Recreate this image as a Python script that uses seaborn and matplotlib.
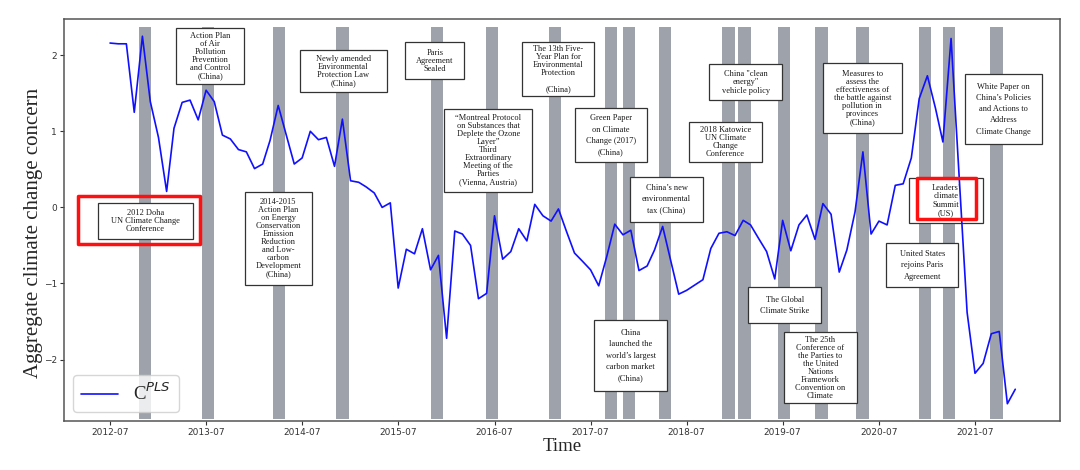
import numpy as np
import pandas as pd
import matplotlib
matplotlib.use("Agg")
import matplotlib.pyplot as plt
import matplotlib.dates as mdates
from matplotlib.patches import Rectangle
import seaborn as sns

# ---------------- data ----------------
first_month = "2012-07-01"
c_pls = [
    2.16, 2.15, 2.15, 1.25, 2.25, 1.39, 0.92, 0.21, 1.04, 1.38,
    1.41, 1.15, 1.54, 1.39, 0.95, 0.90, 0.76, 0.73, 0.51, 0.57,
    0.88, 1.34, 0.96, 0.57, 0.65, 1.00, 0.89, 0.92, 0.54, 1.16,
    0.35, 0.33, 0.27, 0.19, 0.00, 0.06, -1.06, -0.55, -0.61, -0.28,
    -0.82, -0.63, -1.72, -0.31, -0.35, -0.50, -1.20, -1.13, -0.11, -0.68,
    -0.58, -0.28, -0.44, 0.04, -0.11, -0.18, -0.02, -0.32, -0.60, -0.71,
    -0.82, -1.03, -0.64, -0.22, -0.36, -0.30, -0.83, -0.77, -0.56, -0.25,
    -0.69, -1.14, -1.09, -1.02, -0.95, -0.54, -0.34, -0.32, -0.37, -0.17,
    -0.23, -0.41, -0.58, -0.94, -0.17, -0.57, -0.23, -0.10, -0.42, 0.05,
    -0.09, -0.85, -0.56, -0.06, 0.73, -0.35, -0.18, -0.23, 0.29, 0.31,
    0.65, 1.43, 1.73, 1.30, 0.86, 2.22, 0.45, -1.38, -2.18, -2.05,
    -1.66, -1.63, -2.58, -2.39,
]
event_dates = [
    "2012-11-12", "2013-07-09", "2014-04-05", "2014-12-01", "2015-11-26",
    "2016-06-22", "2017-02-16", "2017-09-17", "2017-11-25", "2018-04-10",
    "2018-12-07", "2019-02-06", "2019-07-05", "2019-11-25", "2020-04-30",
    "2020-12-24", "2021-03-25", "2021-09-20",
]
event_bar_days = 47

yticks = [-2, -1, 0, 1, 2]
legend_label = "C$^{PLS}$"
x_label = "Time"
y_label = "Aggregate climate change concern"

notes = [
    "2012 Doha\nUN Climate Change\nConference",
    "Action Plan\nof Air\nPollution\nPrevention\nand Control\n(China)",
    "Newly amended\nEnvironmental\nProtection Law\n(China)",
    "2014-2015\nAction Plan\non Energy\nConservation\nEmission\nReduction\nand Low-\ncarbon\nDevelopment\n(China)",
    "Paris\nAgreement\nSealed",
    "\u201cMontreal Protocol\non Substances that\nDeplete the Ozone\nLayer\u201d\nThird\nExtraordinary\nMeeting of the\nParties\n(Vienna, Austria)",
    "The 13th Five-\nYear Plan for\nEnvironmental\nProtection\n\n(China)",
    "Green Paper\non Climate\nChange (2017)\n(China)",
    "China\u2019s new\nenvironmental\ntax (China)",
    "2018 Katowice\nUN Climate\nChange\nConference",
    "China \"clean\nenergy\"\nvehicle policy",
    "Measures to\nassess the\neffectiveness of\nthe battle against\npollution in\nprovinces\n(China)",
    "White Paper on\nChina\u2019s Policies\nand Actions to\nAddress\nClimate Change",
    "Leaders\u2019\nclimate\nSummit\n(US)",
    "United States\nrejoins Paris\nAgreement",
    "The Global\nClimate Strike",
    "The 25th\nConference of\nthe Parties to\nthe United\nNations\nFramework\nConvention on\nClimate",
    "China\nlaunched the\nworld\u2019s largest\ncarbon market\n(China)",
]

# ---------------- layout (pixel boxes: x0, x1, y0, y1) ----------------
note_boxes = [
    (97.7, 193.3, 203.3, 239.3), (175.7, 244.3, 27.7, 84.3),
    (300.0, 386.7, 50.0, 91.7), (245.0, 311.7, 191.7, 285.0),
    (405.3, 464.3, 42.3, 79.3), (444.3, 532.0, 109.0, 191.7),
    (522.3, 594.3, 42.3, 96.0), (574.7, 647.3, 108.3, 162.3),
    (630.3, 702.7, 176.7, 221.7), (689.3, 761.7, 121.7, 162.3),
    (709.0, 782.3, 64.3, 100.0), (823.0, 901.7, 62.7, 133.3),
    (965.0, 1041.7, 74.3, 144.3), (909.3, 982.7, 178.3, 222.7),
    (886.0, 958.3, 243.3, 287.3), (748.3, 821.0, 287.3, 323.3),
    (784.3, 856.7, 332.3, 402.7), (594.3, 666.7, 320.0, 391.0),
]
note_spacing = [1.0, 1.0, 1.0, 1.0, 1.0, 1.0, 1.0, 1.55, 1.57, 1.0,
                1.1, 1.0, 1.53, 1.05, 1.57, 1.57, 1.0, 1.57]
red_boxes = [(78.3, 200.0, 196.0, 244.3), (916.7, 976.0, 178.3, 219.0)]

AX_L, AX_R, AX_T, AX_B = 64, 1060, 19, 421
W, H = 1080, 470


def fx(x):
    return (x - AX_L) / (AX_R - AX_L)


def fy(y):
    return (AX_B - y) / (AX_B - AX_T)


# ---------------- style ----------------
sns.set_style("ticks")
plt.rcParams["font.family"] = ["DejaVu Sans"]
plt.rcParams["axes.unicode_minus"] = True
serif = ["Liberation Serif", "DejaVu Serif"]

fig = plt.figure(figsize=(W / 100, H / 100), dpi=100)
ax = fig.add_axes([AX_L / W, 1 - AX_B / H, (AX_R - AX_L) / W, (AX_B - AX_T) / H])

months = pd.date_range(first_month, periods=len(c_pls), freq="MS")
df = pd.DataFrame({"Time": months, "C": c_pls})

# event bars
half = pd.Timedelta(days=event_bar_days / 2)
for d in pd.to_datetime(event_dates):
    ax.axvspan(d - half, d + half, ymin=0.006, ymax=0.98,
               color="#9ea3ab", lw=0, zorder=1)

sns.lineplot(data=df, x="Time", y="C", ax=ax, color="#1010ff", lw=1.2,
             label=legend_label, zorder=6)

ax.set_xlim(pd.Timestamp("2012-01-08"), pd.Timestamp("2022-05-20"))
ax.set_ylim(-2.807, 2.476)
ax.set_yticks(yticks)
ax.xaxis.set_major_locator(mdates.MonthLocator(bymonth=7))
ax.xaxis.set_major_formatter(mdates.DateFormatter("%Y-%m"))
ax.tick_params(axis="both", labelsize=6.5, length=3, width=0.8,
               colors="#333333", pad=2)

for s in ax.spines.values():
    s.set_color("#555555")
    s.set_linewidth(1.1)

ax.set_xlabel(x_label, fontsize=13.5, family=serif, labelpad=1)
ax.set_ylabel(y_label, fontsize=15, family=serif)
ax.yaxis.set_label_coords(-0.021, 0.468)

# annotation boxes
for txt, (x0, x1, y0, y1), ls in zip(notes, note_boxes, note_spacing):
    ax.add_patch(Rectangle((fx(x0), fy(y1)), fx(x1) - fx(x0), fy(y0) - fy(y1),
                           transform=ax.transAxes, fc="white", ec="#333333",
                           lw=0.9, zorder=3))
    ax.text(fx((x0 + x1) / 2), fy((y0 + y1) / 2), txt, transform=ax.transAxes,
            ha="center", va="center", multialignment="center",
            fontsize=6, family=serif, color="#1a1a1a", linespacing=ls, zorder=4)

for (x0, x1, y0, y1) in red_boxes:
    ax.add_patch(Rectangle((fx(x0), fy(y1)), fx(x1) - fx(x0), fy(y0) - fy(y1),
                           transform=ax.transAxes, fc="none", ec="#ff1010",
                           lw=2.5, joinstyle="round", zorder=7))

leg = ax.legend(loc="lower left", prop={"family": serif, "size": 13.5},
                handlelength=2.0, borderaxespad=0.5)
leg.set_zorder(8)

fig.savefig("out.png", dpi=100)
